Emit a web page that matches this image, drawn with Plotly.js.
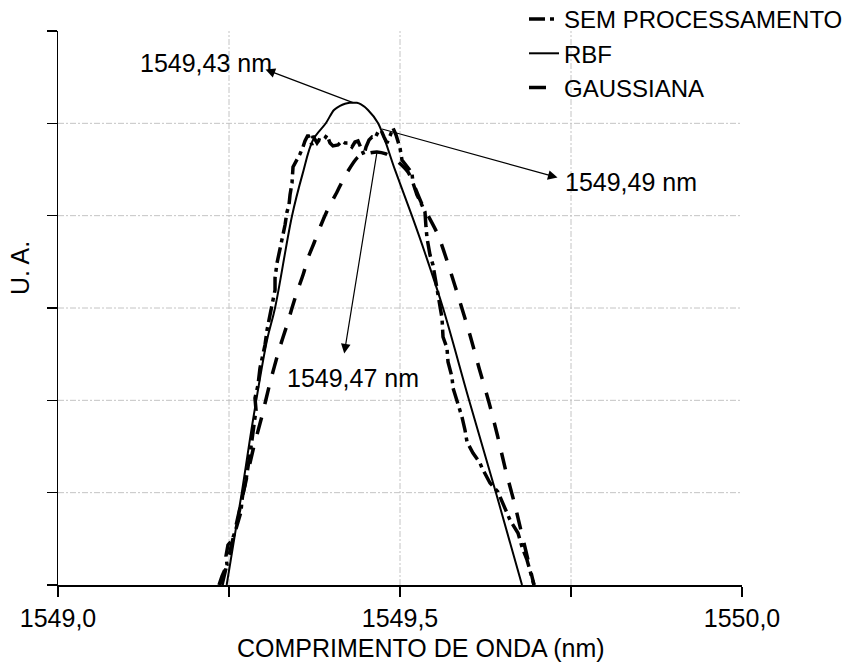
<!DOCTYPE html>
<html>
<head>
<meta charset="utf-8">
<script src="https://cdn.plot.ly/plotly-3.0.1.min.js"></script>
<style>html,body{margin:0;padding:0;background:#fff;}#chart{width:862px;height:662px;}</style>
</head>
<body>
<div id="chart"></div>
<script>
// ---- Data (wavelength in nm, amplitude in arbitrary units) ----
const seriesNames = ['SEM PROCESSAMENTO', 'RBF', 'GAUSSIANA'];

const rawX = [1549.2354,1549.2398,1549.2471,1549.2456,1549.2485,1549.2544,1549.2588,1549.2632,1549.2675,1549.2690,
  1549.2705,1549.2749,1549.2778,1549.2807,1549.2836,1549.2865,1549.2895,1549.2880,1549.2924,1549.2953,
  1549.2997,1549.3026,1549.3056,1549.3099,1549.3129,1549.3173,1549.3173,1549.3202,1549.3246,1549.3289,
  1549.3319,1549.3348,1549.3377,1549.3392,1549.3421,1549.3436,1549.3494,1549.3538,1549.3582,1549.3611,
  1549.3655,1549.3684,1549.3713,1549.3728,1549.3787,1549.3816,1549.3860,1549.3904,1549.3933,1549.3977,
  1549.4020,1549.4094,1549.4152,1549.4196,1549.4240,1549.4298,1549.4342,1549.4386,1549.4430,1549.4474,
  1549.4503,1549.4547,1549.4591,1549.4635,1549.4678,1549.4722,1549.4766,1549.4810,1549.4854,1549.4898,
  1549.4942,1549.4971,1549.5000,1549.5029,1549.5102,1549.5175,1549.5190,1549.5249,1549.5307,1549.5365,
  1549.5380,1549.5395,1549.5439,1549.5482,1549.5512,1549.5556,1549.5585,1549.5614,1549.5629,1549.5687,
  1549.5702,1549.5760,1549.5775,1549.5833,1549.5906,1549.5950,1549.5980,1549.6067,1549.6170,1549.6199,
  1549.6316,1549.6433,1549.6491,1549.6564,1549.6608,1549.6725,1549.6784,1549.6857,1549.6930,1549.6959];
const rawY = [0.000,0.097,0.217,0.314,0.433,0.487,0.574,0.672,0.791,0.921,
  0.996,1.137,1.267,1.386,1.570,1.733,1.895,2.025,2.166,2.350,
  2.491,2.599,2.762,2.903,3.033,3.195,3.325,3.487,3.650,3.769,
  3.899,4.040,4.116,4.224,4.354,4.527,4.603,4.668,4.744,4.809,
  4.874,4.820,4.766,4.863,4.787,4.820,4.809,4.841,4.874,4.787,
  4.755,4.766,4.809,4.787,4.787,4.744,4.798,4.809,4.733,4.657,
  4.744,4.820,4.852,4.841,4.906,4.928,4.852,4.787,4.863,4.950,
  4.874,4.798,4.733,4.603,4.527,4.462,4.354,4.224,4.137,4.040,
  3.877,3.758,3.574,3.466,3.336,3.163,3.033,2.892,2.686,2.567,
  2.415,2.253,2.134,2.004,1.820,1.679,1.549,1.430,1.321,1.267,
  1.105,1.007,0.899,0.780,0.704,0.563,0.412,0.271,0.087,0.000];

const rbfX = [1549.2466,1549.2686,1549.2851,1549.3056,1549.3173,1549.3421,1549.3575,1549.3728,1549.3918,1549.4035,
  1549.4123,1549.4196,1549.4265,1549.4313,1549.4370,1549.4430,1549.4532,1549.4678,1549.4927,1549.5175,
  1549.5365,1549.5629,1549.6009,1549.6404,1549.6784];
const rbfY = [0.000,0.996,1.787,2.654,3.000,3.997,4.450,4.820,5.004,5.145,
  5.190,5.212,5.222,5.224,5.222,5.205,5.145,5.004,4.495,3.997,
  3.596,3.000,2.004,0.996,0.000];

const gaussX = [1549.2398,1549.2588,1549.2719,1549.2851,1549.2982,1549.3099,1549.3231,1549.3348,1549.3421,1549.3494,
  1549.3582,1549.3655,1549.3743,1549.3845,1549.3947,1549.4079,1549.4196,1549.4386,1549.4561,1549.4664,
  1549.4795,1549.4942,1549.5117,1549.5307,1549.5556,1549.5731,1549.5877,1549.6023,1549.6162,1549.6301,
  1549.6425,1549.6542,1549.6674,1549.6784,1549.6893,1549.6959];
const gaussY = [0.000,0.596,1.029,1.462,1.830,2.188,2.545,2.816,3.000,3.173,
  3.357,3.542,3.704,3.899,4.072,4.256,4.430,4.636,4.679,4.690,
  4.668,4.603,4.473,4.148,3.791,3.412,3.065,2.708,2.334,1.977,
  1.619,1.251,0.883,0.542,0.206,0.000];

const xTickVals = [1549.0, 1549.25, 1549.5, 1549.75, 1550.0];
const xTickText = ['1549,0', '', '1549,5', '', '1550,0'];
const yTickVals = [0, 1, 2, 3, 4, 5, 6];
const gridX = [1549.25, 1549.5, 1549.75];
const gridY = [1, 2, 3, 4, 5];

const peakLabels = ['1549,43 nm', '1549,49 nm', '1549,47 nm'];
// label text positions and arrowhead positions (data coordinates)
const labelX = [1549.2164, 1549.8377, 1549.4320];
const labelY = [5.654, 4.365, 2.242];
const headX = [1549.3012, 1549.7325, 1549.4181];
const headY = [5.589, 4.408, 2.491];
// arrow tail points on the curves
const tailX = [1549.4313, 1549.4737, 1549.4664];
const tailY = [5.224, 4.939, 4.690];

// ---- Chart ----
const FONT = 'Liberation Sans, Arial, sans-serif';

const traces = [
  {x: rawX, y: rawY, name: seriesNames[0], type: 'scatter', mode: 'lines',
   line: {color: '#000', width: 3.5, dash: '16px,5px,4px,5px'}},
  {x: rbfX, y: rbfY, name: seriesNames[1], type: 'scatter', mode: 'lines',
   line: {color: '#000', width: 2, shape: 'spline', smoothing: 1}},
  {x: gaussX, y: gaussY, name: seriesNames[2], type: 'scatter', mode: 'lines',
   line: {color: '#000', width: 3.5, dash: '17px,14px', shape: 'spline', smoothing: 0.6}}
];

const shapes = [];
gridX.forEach(v => shapes.push({type: 'line', layer: 'below', xref: 'x', yref: 'paper', x0: v, x1: v, y0: 0, y1: 1,
  line: {color: '#c4c4c4', width: 1, dash: '6px,2px,2px,2px'}}));
gridY.forEach(v => shapes.push({type: 'line', layer: 'below', xref: 'paper', yref: 'y', x0: 0, x1: 1, y0: v, y1: v,
  line: {color: '#c4c4c4', width: 1, dash: '6px,2px,2px,2px'}}));

const annotations = [];
peakLabels.forEach((t, i) => {
  annotations.push({xref: 'x', yref: 'y', x: labelX[i], y: labelY[i], text: t, showarrow: false,
    font: {family: FONT, size: 25, color: '#000'}, xanchor: 'center', yanchor: 'middle'});
  annotations.push({xref: 'x', yref: 'y', axref: 'x', ayref: 'y', x: tailX[i], y: tailY[i],
    ax: headX[i], ay: headY[i], text: '', showarrow: true, arrowside: 'start',
    startarrowhead: 2, startarrowsize: 1.6, arrowwidth: 1.2, arrowcolor: '#000', startstandoff: 0, standoff: 0});
});
// axis titles
annotations.push({xref: 'paper', yref: 'paper', x: (421 - 58) / 684, y: -(648 - 585) / 554,
  text: 'COMPRIMENTO DE ONDA (nm)', showarrow: false, xanchor: 'center', yanchor: 'middle',
  font: {family: FONT, size: 25, color: '#000'}});
annotations.push({xref: 'paper', yref: 'paper', x: -(58 - 20) / 684, y: (585 - 268) / 554,
  text: 'U. A.', textangle: -90, showarrow: false, xanchor: 'center', yanchor: 'middle',
  font: {family: FONT, size: 25, color: '#000'}});

const layout = {
  width: 862, height: 662,
  margin: {l: 58, r: 120, t: 31, b: 77, pad: 0, autoexpand: false},
  paper_bgcolor: '#fff', plot_bgcolor: '#fff',
  font: {family: FONT, size: 25, color: '#000'},
  showlegend: true,
  legend: {x: (524 - 58) / 684, xanchor: 'left', y: 1 + (31 + 3) / 554, yanchor: 'top',
    bgcolor: 'rgba(0,0,0,0)', borderwidth: 0, font: {family: FONT, size: 24, color: '#000'},
    tracegroupgap: 0},
  xaxis: {range: [1549.0, 1550.0], tickvals: xTickVals, ticktext: xTickText, ticks: 'outside',
    ticklen: 10, tickwidth: 1.5, tickcolor: '#000', showline: true, linecolor: '#000', linewidth: 1.5,
    showgrid: false, zeroline: false, tickfont: {family: FONT, size: 25, color: '#000'}, fixedrange: true},
  yaxis: {range: [0, 6], tickvals: yTickVals, ticks: 'outside', ticklen: 10, tickwidth: 1.5,
    tickcolor: '#000', showline: true, linecolor: '#000', linewidth: 1.5, showticklabels: false,
    showgrid: false, zeroline: false, fixedrange: true},
  shapes: shapes,
  annotations: annotations
};

Plotly.newPlot('chart', traces, layout, {displayModeBar: false, staticPlot: true});
</script>
</body>
</html>
